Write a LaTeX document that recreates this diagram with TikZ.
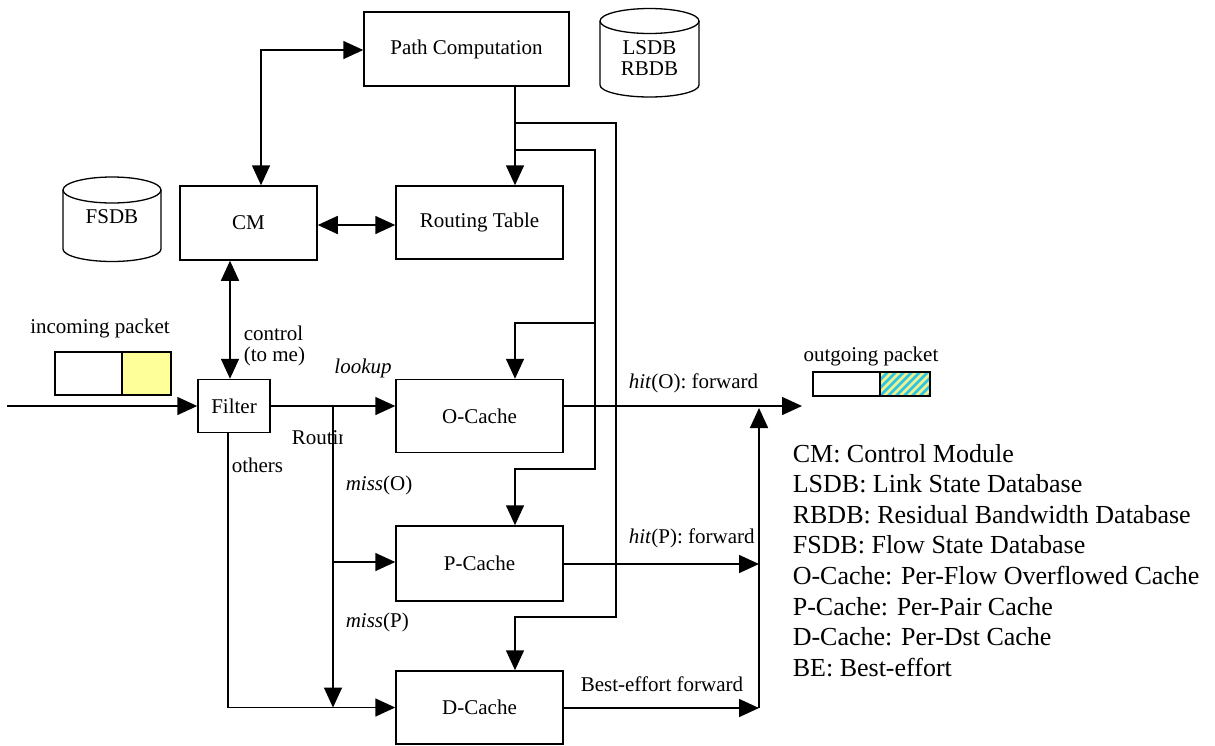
\documentclass[tikz,border=0pt]{standalone}
\usepackage{fontspec}
\setmainfont{Liberation Serif}
\usetikzlibrary{arrows.meta}
\newcommand\dfont{\fontsize{21}{24}\selectfont}
\newcommand\lfont{\fontsize{26}{30}\selectfont}
\definecolor{pktyellow}{HTML}{FFFF99}
\definecolor{hatchcyan}{HTML}{2EC4E8}
\definecolor{hatchyellow}{HTML}{F2F28A}
\begin{document}
\begin{tikzpicture}[x=1pt,y=-1pt,
  line width=1.6pt,
  box/.style={draw, line width=1.5pt, inner sep=0pt, font=\dfont, align=center},
  lbl/.style={inner sep=0pt, font=\dfont},
  arr/.style={-{Triangle[length=20pt,width=18pt]}},
  darr/.style={{Triangle[length=20pt,width=18pt]}-{Triangle[length=20pt,width=18pt]}},
  db/.style={line width=1.3pt},
]
\useasboundingbox (0,0) rectangle (1215,745);

% ---- processing blocks ----
\node[box, minimum width=205pt, minimum height=74pt] (pc) at (466.5,49) {Path Computation};
\node[box, minimum width=167pt, minimum height=73pt] (rt) at (479.5,222.5) {Routing Table};
\node[box, minimum width=137pt, minimum height=74pt] (cm) at (248.5,223) {CM};
\node[box, minimum width=72pt, minimum height=53pt] (filter) at (234,406) {Filter};
\node[box, minimum width=167pt, minimum height=73pt] (oc) at (479.5,416) {O-Cache};
\node[box, minimum width=167pt, minimum height=75pt] (pcache) at (479.5,563.5) {P-Cache};
\node[box, minimum width=167pt, minimum height=73pt] (dc) at (479.5,707.5) {D-Cache};

% ---- databases ----
\draw[db] (600,21) -- (600,85) arc[start angle=180, end angle=0, x radius=49.5, y radius=12]
  -- (699,21);
\draw[db] (649.5,21) ellipse[x radius=49.5, y radius=12.5];
\node[lbl, align=center] (lsdb) at (649.5,58) {LSDB\\[-3pt]RBDB};

\draw[db] (63,190) -- (63,249) arc[start angle=180, end angle=0, x radius=49, y radius=12.5]
  -- (161,190);
\draw[db] (112,190) ellipse[x radius=49, y radius=13];
\node[lbl] (fsdb) at (112,217) {FSDB};

% ---- packets ----
\node[lbl] (inlbl) at (100,328) {incoming packet};
\draw[line width=1.4pt] (55,352) rectangle (122,395);
\draw[line width=1.4pt, fill=pktyellow] (122,352) rectangle (171,395);

\node[lbl] (outlbl) at (871,356) {outgoing packet};
\draw[line width=1.4pt] (813,372) rectangle (880,396);
\begin{scope}
  \clip (880,372) rectangle (930,396);
  \fill[hatchcyan] (880,372) rectangle (930,396);
  \foreach \i in {-32,-24,...,56}
    \draw[hatchyellow, line width=2.6pt] (880+\i,400) -- (880+\i+32,368);
\end{scope}
\draw[line width=1.4pt] (880,372) rectangle (930,396);

% ---- control connectors ----
\draw[darr] (cm.north -| 261,0) |- (pc.west |- 0,50);
\draw[darr] (cm.east |- 0,225) -- (rt.west |- 0,225);
\draw[darr] ([xshift=-18.5pt]cm.south) -- ([xshift=-4pt]filter.north);
\node[lbl, anchor=west, align=left] (ctl) at (243,346) {control\\[-3pt](to me)};

% ---- route distribution from Path Computation ----
\coordinate (pcout) at (pc.south -| 515,0);
\draw[arr] (pcout) -- (rt.north -| pcout);
\coordinate (b1) at (515,123);
\coordinate (b2) at (515,150);
\coordinate (bo) at (595,323);
\draw[arr] (b1) -- (616,123) -- (616,617) -- (515,617) -- (dc.north -| pcout);
\draw[arr] (b2) -- (595,150) -- (bo) -- (515,323) -- (oc.north -| pcout);
\draw[arr] (bo) -- (595,469) -- (515,469) -- (pcache.north -| pcout);

% ---- packet path ----
\coordinate (in) at (7,406);
\draw[arr] (in) -- (filter.west);
\coordinate (sp) at (333,406);
\draw[arr] (filter.east) -- (oc.west |- sp);
\node[lbl, font=\dfont\itshape] (lookup) at (363,368) {lookup};
\coordinate (dmiss) at (333,707.5);
\draw[arr] (sp) -- (dmiss);
\draw[arr] (333,562) -- (pcache.west |- 0,562);
\draw[arr] ([xshift=-6pt]filter.south) |- (dc.west);
\node[lbl, anchor=west] (oth) at (231,465) {others};
\begin{scope}
  \clip (280,420) rectangle (342.5,462);
  \node[lbl, anchor=west] (rtg) at (291,440) {Routing};
\end{scope}
\node[lbl, anchor=west] (mo) at (345,485) {\textit{miss}(O)};
\node[lbl, anchor=west] (mp) at (345,622) {\textit{miss}(P)};

% ---- forwarding ----
\coordinate (outtip) at (802,406);
\coordinate (merge) at (759,708);
\draw[arr] (oc.east |- 0,406) -- (outtip);
\draw[arr] (pcache.east |- 0,564) -- (759,564);
\draw[arr] (dc.east |- merge) -- (merge);
\draw[arr] (merge) -- (759,408);
\node[lbl, anchor=west] (ho) at (628,383) {\textit{hit}(O): forward};
\node[lbl, anchor=west] (hp) at (628,538) {\textit{hit}(P): forward};
\node[lbl, anchor=west] (be) at (580,684) {Best-effort forward};

% ---- legend ----
\foreach \t [count=\k from 0] in {CM: Control Module,
  LSDB: Link State Database,
  RBDB: Residual Bandwidth Database,
  FSDB: Flow State Database,
  O-Cache: Per-Flow Overflowed Cache,
  P-Cache: Per-Pair Cache,
  D-Cache: Per-Dst Cache,
  BE: Best-effort}
  \node[inner sep=0pt, anchor=base west, font=\lfont] (leg\k) at (792,462+30.6*\k) {\t};
\end{tikzpicture}
\end{document}
